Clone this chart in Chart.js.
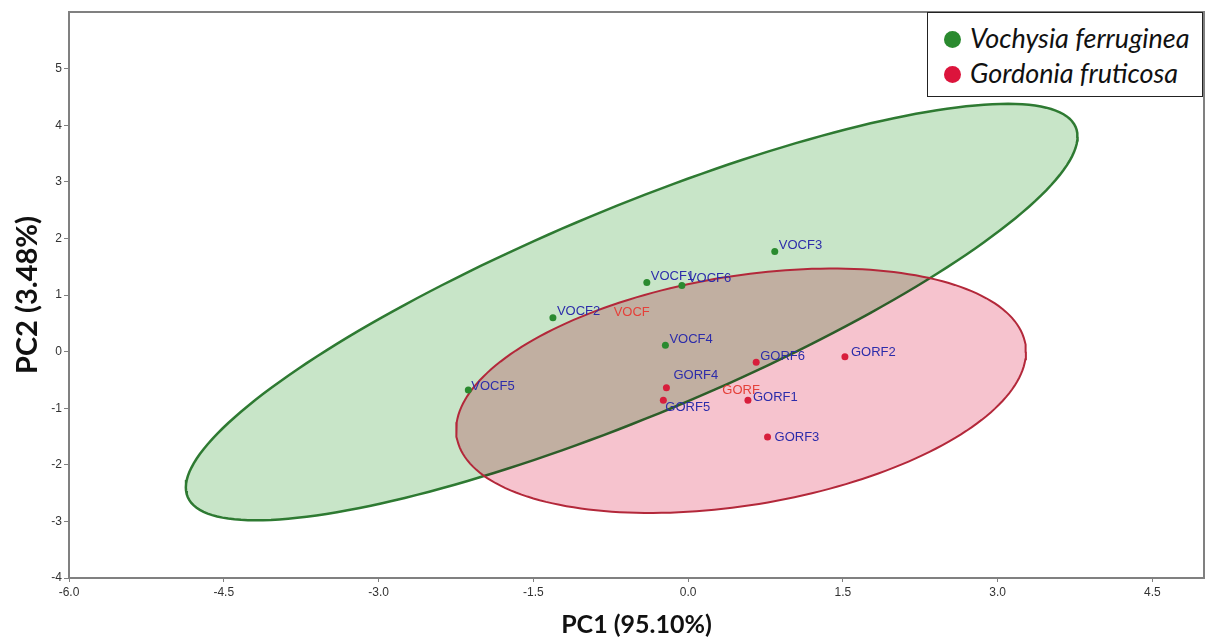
<!DOCTYPE html>
<html>
<head>
<meta charset="utf-8">
<title>PCA - Vochysia ferruginea / Gordonia fruticosa</title>
<script src="https://cdn.jsdelivr.net/npm/chart.js@4.4.1/dist/chart.umd.min.js"></script>
<style>
  body { margin: 0; background: #fff; }
  #wrap { position: relative; width: 1208px; height: 640px; }
  #legend { position: absolute; left: 927px; top: 12px; width: 276px; height: 85px; box-sizing: border-box;
            border: 1.5px solid #222; background: #fff; font: italic 27px Lato, sans-serif; color: #111; }
  #legend div { position: absolute; left: 16px; height: 32px; line-height: 32px; white-space: nowrap; }
  #legend span { display: inline-block; width: 17px; height: 17px; border-radius: 50%; margin-right: 9px; vertical-align: 0px; }
</style>
</head>
<body>
<div id="wrap">
  <canvas id="pca"></canvas>
  <div id="legend">
    <div style="top:9px"><span style="background:#2a8a2f"></span>Vochysia ferruginea</div>
    <div style="top:44px"><span style="background:#dc143c"></span>Gordonia fruticosa</div>
  </div>
</div>
<script>
/* ======= Scores ======= */
const vocfNames = ['VOCF1', 'VOCF2', 'VOCF3', 'VOCF4', 'VOCF5', 'VOCF6'];
const vocfPC1 = [-0.40, -1.31, 0.84, -0.22, -2.13, -0.06];
const vocfPC2 = [1.22, 0.60, 1.77, 0.11, -0.68, 1.17];

const gorfNames = ['GORF1', 'GORF2', 'GORF3', 'GORF4', 'GORF5', 'GORF6'];
const gorfPC1 = [0.58, 1.52, 0.77, -0.21, -0.24, 0.66];
const gorfPC2 = [-0.86, -0.09, -1.51, -0.64, -0.86, -0.19];

const xTicks = [-6.0, -4.5, -3.0, -1.5, 0.0, 1.5, 3.0, 4.5];
const yTicks = [-4, -3, -2, -1, 0, 1, 2, 3, 4, 5];

// F(2, 4) at 95% -> Hotelling confidence ellipse for n = 6
const F_2_4 = 6.944;

function mean(a) { return a.reduce((s, v) => s + v, 0) / a.length; }

function toPoints(xs, ys) { return xs.map((x, i) => ({x: x, y: ys[i]})); }

function confEllipse(xs, ys) {
    var n = xs.length, mx = mean(xs), my = mean(ys);
    var sxx = 0, syy = 0, sxy = 0;
    for (var i = 0; i < n; i++) {
        sxx += (xs[i] - mx) * (xs[i] - mx);
        syy += (ys[i] - my) * (ys[i] - my);
        sxy += (xs[i] - mx) * (ys[i] - my);
    }
    sxx /= n - 1; syy /= n - 1; sxy /= n - 1;
    var k = Math.sqrt(2 * (n - 1) / (n - 2) * F_2_4);
    var l11 = Math.sqrt(sxx), l21 = sxy / l11, l22 = Math.sqrt(syy - l21 * l21);
    var pts = [];
    for (var j = 0; j <= 200; j++) {
        var t = j / 200 * 2 * Math.PI;
        pts.push({x: mx + k * l11 * Math.cos(t), y: my + k * (l21 * Math.cos(t) + l22 * Math.sin(t))});
    }
    return pts;
}

// label nudges (px) where SPSS moved a label off the default spot
const nudge = {GORF1: [5, -3], GORF2: [6, -4], GORF3: [7, 0], GORF4: [7, -12], GORF5: [2, 7], VOCF5: [3, -4], VOCF6: [6, -7]};

/* ======= Fill the ellipse outlines ======= */
const shapeFill = {
    id: 'shapeFill',
    beforeDatasetDraw(chart, args) {
        var ds = chart.data.datasets[args.index];
        if (!ds.shapeFill) return;
        var ctx = chart.ctx, pts = args.meta.data;
        ctx.save();
        ctx.globalCompositeOperation = ds.blend || 'source-over';
        ctx.beginPath();
        pts.forEach(function (p, i) { i ? ctx.lineTo(p.x, p.y) : ctx.moveTo(p.x, p.y); });
        ctx.closePath();
        ctx.fillStyle = ds.shapeFill;
        ctx.fill();
        ctx.restore();
    }
};

/* ======= Sample and centroid labels ======= */
const pointLabels = {
    id: 'pointLabels',
    afterDatasetsDraw(chart) {
        var ctx = chart.ctx;
        ctx.save();
        ctx.font = '13px "Liberation Sans", Arial, sans-serif';
        ctx.textBaseline = 'middle';
        chart.data.datasets.forEach(function (ds, i) {
            if (!ds.names) return;
            var meta = chart.getDatasetMeta(i);
            ctx.fillStyle = '#2c2caa';
            ctx.textAlign = 'left';
            meta.data.forEach(function (pt, j) {
                var d = nudge[ds.names[j]] || [4, -6];
                ctx.fillText(ds.names[j], pt.x + d[0], pt.y + d[1]);
            });
            var cx = chart.scales.x.getPixelForValue(mean(ds.data.map(p => p.x)));
            var cy = chart.scales.y.getPixelForValue(mean(ds.data.map(p => p.y)));
            ctx.fillStyle = '#e5403a';
            ctx.textAlign = 'center';
            ctx.fillText(ds.group, cx, cy);
        });
        ctx.restore();
    }
};

/* ======= Plot frame ======= */
const frame = {
    id: 'frame',
    afterDraw(chart) {
        var a = chart.chartArea, ctx = chart.ctx;
        ctx.save();
        ctx.strokeStyle = '#808080';
        ctx.lineWidth = 2;
        ctx.strokeRect(a.left, a.top, a.right - a.left, a.bottom - a.top);
        ctx.restore();
    }
};

const tickFont = {family: '"Liberation Sans", Arial, sans-serif', size: 12};

var chart = new Chart(document.getElementById('pca'), {
    type: 'scatter',
    data: {
        datasets: [{
            label: 'Vochysia ferruginea',
            group: 'VOCF',
            names: vocfNames,
            data: toPoints(vocfPC1, vocfPC2),
            backgroundColor: '#2a8a2f',
            pointRadius: 3.5,
            pointBorderWidth: 0,
            order: 0
        }, {
            label: 'Gordonia fruticosa',
            group: 'GORF',
            names: gorfNames,
            data: toPoints(gorfPC1, gorfPC2),
            backgroundColor: '#d81e3c',
            pointRadius: 3.5,
            pointBorderWidth: 0,
            order: 1
        }, {
            label: 'GORF ellipse',
            data: confEllipse(gorfPC1, gorfPC2),
            showLine: true,
            pointRadius: 0,
            borderColor: '#b3283a',
            borderWidth: 2,
            shapeFill: '#f6c3ce',
            blend: 'multiply',
            order: 2
        }, {
            label: 'VOCF ellipse',
            data: confEllipse(vocfPC1, vocfPC2),
            showLine: true,
            pointRadius: 0,
            borderColor: '#2e7a32',
            borderWidth: 2.5,
            shapeFill: '#c8e5c8',
            order: 3
        }]
    },
    options: {
        responsive: true,
        maintainAspectRatio: false,
        animation: false,
        layout: {padding: {top: 12, right: 3, left: 0, bottom: 0}},
        plugins: {legend: {display: false}, tooltip: {enabled: false}},
        scales: {
            x: {
                min: -6, max: 5,
                afterBuildTicks: function (axis) { axis.ticks = xTicks.map(v => ({value: v})); },
                afterFit: function (axis) { axis.height = 62; },
                ticks: {callback: v => v.toFixed(1), font: tickFont, color: '#333', padding: 3, maxRotation: 0},
                grid: {drawOnChartArea: false, tickLength: 4, color: '#808080'},
                border: {color: '#808080', width: 2},
                title: {display: true, text: 'PC1 (95.10%)', color: '#111',
                        font: {family: 'Lato, sans-serif', size: 25, weight: 'bold'}, padding: {top: 0, bottom: 0}}
            },
            y: {
                min: -4, max: 6,
                afterBuildTicks: function (axis) { axis.ticks = yTicks.map(v => ({value: v})); },
                afterFit: function (axis) { axis.width = 69; },
                ticks: {font: tickFont, color: '#333', padding: 2},
                grid: {drawOnChartArea: false, tickLength: 5, color: '#808080'},
                border: {color: '#808080', width: 2},
                title: {display: true, text: 'PC2 (3.48%)', color: '#111',
                        font: {family: 'Lato, sans-serif', size: 29, weight: 'bold'}, padding: {top: 10, bottom: 0}}
            }
        }
    },
    plugins: [shapeFill, pointLabels, frame]
});
</script>
</body>
</html>
